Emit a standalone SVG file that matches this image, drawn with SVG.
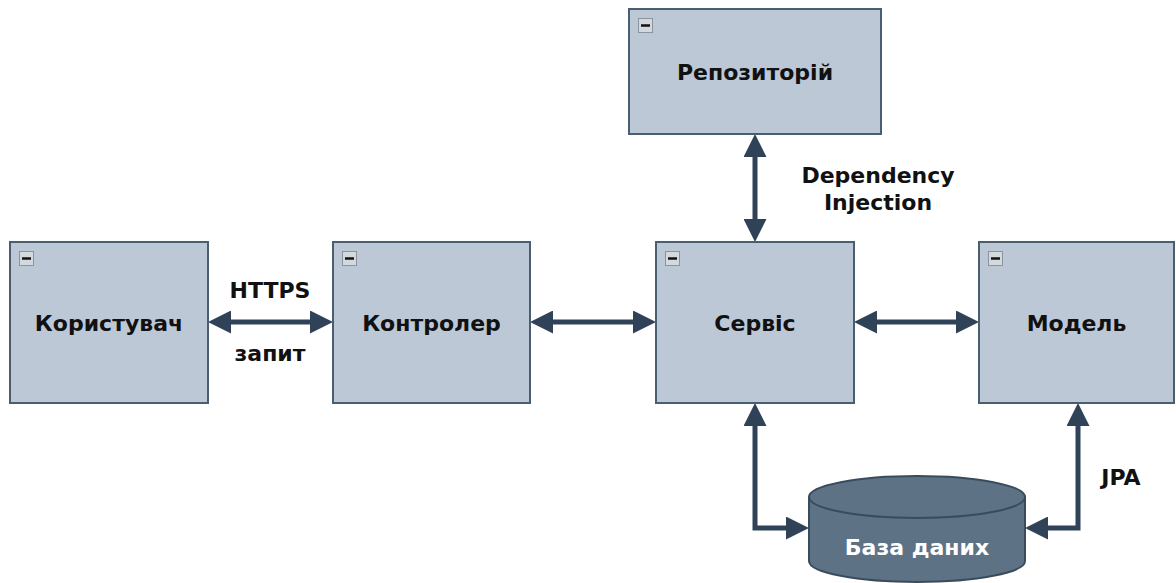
<svg xmlns="http://www.w3.org/2000/svg" width="1176" height="583" viewBox="0 0 1176 583">
<style>
.box{fill:#bcc8d6;stroke:#4a5e72;stroke-width:2}
.ico{fill:#d4d9de;stroke:#8a949e;stroke-width:1}
.icoline{stroke:#111;stroke-width:2.5}
.lbl{font-family:"DejaVu Sans",Verdana,sans-serif;font-weight:bold;font-size:22px;fill:#111;text-anchor:middle}
.conn{fill:none;stroke:#2f4257;stroke-width:5;marker-start:url(#ah);marker-end:url(#ah)}
.db{fill:#5e7286;stroke:#3a4b5c;stroke-width:2}
</style>
<defs>
<marker id="ah" markerUnits="userSpaceOnUse" markerWidth="23" markerHeight="23" viewBox="0 0 23 23" refX="13" refY="11.5" orient="auto-start-reverse">
<path d="M0,0 L23,11.5 L0,23 z" fill="#2f4257"/>
</marker>
</defs>
<rect width="1176" height="583" fill="#fff"/>
<g id="connectors">
<path class="conn" d="M218,322 H323"/>
<path class="conn" d="M540,322 H646"/>
<path class="conn" d="M864,322 H969"/>
<path class="conn" d="M755,144 V232"/>
<path class="conn" d="M755,413 V528 H799"/>
<path class="conn" d="M1078,413 V528 H1035"/>
<text class="lbl" x="270" y="298">HTTPS</text>
<text class="lbl" x="270" y="361">запит</text>
<text class="lbl" x="878" y="183">Dependency</text>
<text class="lbl" x="878" y="210">Injection</text>
<text class="lbl" x="1121" y="485">JPA</text>
</g>
<g id="user">
<rect class="box" x="10" y="242" width="198" height="161"/>
<rect class="ico" x="19.5" y="251.5" width="14" height="14"/><line class="icoline" x1="22" y1="258.5" x2="31" y2="258.5"/>
<text class="lbl" x="109" y="331">Користувач</text>
</g>
<g id="controller">
<rect class="box" x="333" y="242" width="197" height="161"/>
<rect class="ico" x="342.5" y="251.5" width="14" height="14"/><line class="icoline" x1="345" y1="258.5" x2="354" y2="258.5"/>
<text class="lbl" x="431.5" y="331">Контролер</text>
</g>
<g id="service">
<rect class="box" x="656" y="242" width="198" height="161"/>
<rect class="ico" x="665.5" y="251.5" width="14" height="14"/><line class="icoline" x1="668" y1="258.5" x2="677" y2="258.5"/>
<text class="lbl" x="755" y="331">Сервіс</text>
</g>
<g id="model">
<rect class="box" x="979" y="242" width="195" height="161"/>
<rect class="ico" x="988.5" y="251.5" width="14" height="14"/><line class="icoline" x1="991" y1="258.5" x2="1000" y2="258.5"/>
<text class="lbl" x="1076.5" y="331">Модель</text>
</g>
<g id="repository">
<rect class="box" x="629" y="9" width="252" height="125"/>
<rect class="ico" x="638.5" y="18.5" width="14" height="14"/><line class="icoline" x1="641" y1="25.5" x2="650" y2="25.5"/>
<text class="lbl" x="755" y="80">Репозиторій</text>
</g>
<g id="database">
<path class="db" d="M809,497 V561 A108,21 0 0 0 1025,561 V497"/>
<ellipse class="db" cx="917" cy="497" rx="108" ry="21"/>
<text class="lbl" x="917" y="555" style="fill:#fff">База даних</text>
</g>
</svg>
